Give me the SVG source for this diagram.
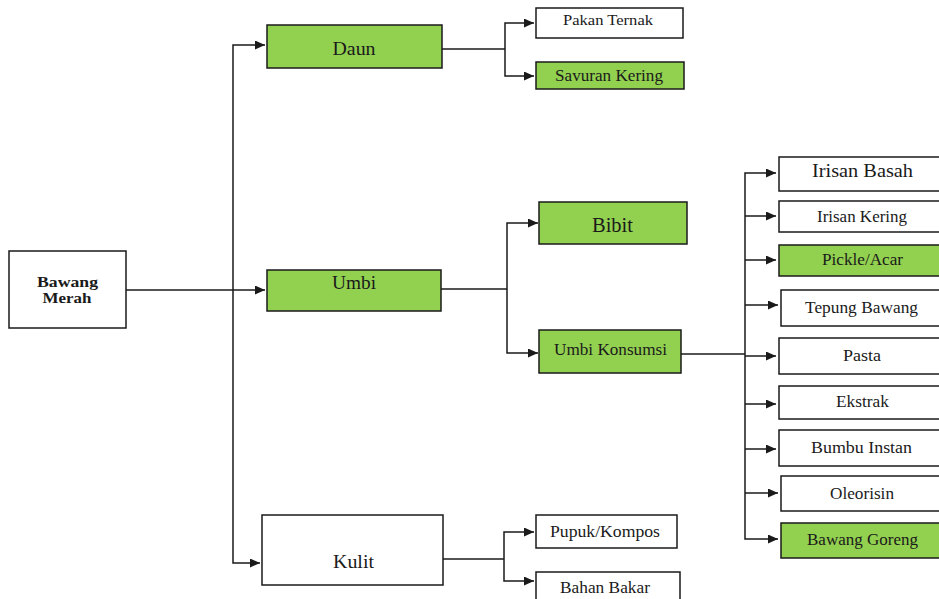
<svg xmlns="http://www.w3.org/2000/svg" width="939" height="599" viewBox="0 0 939 599">
  <style>
    .box { stroke: #1a1a1a; stroke-width: 1.5; fill: #ffffff; }
    .green { fill: #92d050; }
    .lbl { font-family: "Liberation Serif", "Times New Roman", serif; fill: #1a1a1a; text-anchor: middle; }
    .wire { fill: none; stroke: #1a1a1a; stroke-width: 1.5; }
    .arr { marker-end: url(#head); }
  </style>
  <defs>
    <marker id="head" markerUnits="userSpaceOnUse" markerWidth="11" markerHeight="10" refX="10" refY="4.5" orient="auto">
      <path d="M0,0 L10,4.5 L0,9 Z" fill="#1a1a1a"/>
    </marker>
  </defs>
  <rect width="939" height="599" fill="#ffffff"/>

  <!-- connectors -->
  <g id="connectors">
    <path class="wire arr" d="M126,290 H265"/>
    <path class="wire arr" d="M233,290 V45 H265"/>
    <path class="wire arr" d="M233,290 V563 H260"/>

    <path class="wire" d="M442,49 H505"/>
    <path class="wire arr" d="M505,49 V23 H534"/>
    <path class="wire arr" d="M505,49 V76 H534"/>

    <path class="wire" d="M441,289 H507"/>
    <path class="wire arr" d="M507,289 V223 H538"/>
    <path class="wire arr" d="M507,289 V353 H538"/>

    <path class="wire" d="M681,354 H745"/>
    <path class="wire arr" d="M745,354 V173 H776"/>
    <path class="wire arr" d="M745,216 H776"/>
    <path class="wire arr" d="M745,260 H776"/>
    <path class="wire arr" d="M745,305 H778"/>
    <path class="wire arr" d="M745,356 H776"/>
    <path class="wire arr" d="M745,404 H776"/>
    <path class="wire arr" d="M745,449 H776"/>
    <path class="wire arr" d="M745,493 H778"/>
    <path class="wire arr" d="M745,354 V539 H778"/>

    <path class="wire" d="M443,559 H504"/>
    <path class="wire arr" d="M504,559 V532 H534"/>
    <path class="wire arr" d="M504,559 V581 H534"/>
  </g>

  <!-- root -->
  <g id="bawang-merah">
    <rect class="box" x="9" y="251" width="117" height="77"/>
    <text class="lbl" x="67.5" y="287" font-size="15" font-weight="bold" textLength="61" lengthAdjust="spacingAndGlyphs">Bawang</text>
    <text class="lbl" x="67" y="303" font-size="15" font-weight="bold" textLength="49" lengthAdjust="spacingAndGlyphs">Merah</text>
  </g>

  <!-- level 1 -->
  <g id="daun">
    <rect class="box green" x="267" y="25" width="175" height="43"/>
    <text class="lbl" x="354" y="55" font-size="19" textLength="43" lengthAdjust="spacingAndGlyphs">Daun</text>
  </g>
  <g id="umbi">
    <rect class="box green" x="267" y="270" width="174" height="41"/>
    <text class="lbl" x="354" y="289" font-size="19" textLength="44" lengthAdjust="spacingAndGlyphs">Umbi</text>
  </g>
  <g id="kulit">
    <rect class="box" x="262" y="515" width="181" height="70"/>
    <text class="lbl" x="353.5" y="568" font-size="19" textLength="41" lengthAdjust="spacingAndGlyphs">Kulit</text>
  </g>

  <!-- daun products -->
  <g id="pakan-ternak">
    <rect class="box" x="536" y="8" width="147" height="30"/>
    <text class="lbl" x="608" y="25" font-size="15" textLength="90" lengthAdjust="spacingAndGlyphs">Pakan Ternak</text>
  </g>
  <g id="savuran-kering">
    <rect class="box green" x="536" y="62" width="148" height="27"/>
    <text class="lbl" x="609" y="81" font-size="16" textLength="108" lengthAdjust="spacingAndGlyphs">Savuran Kering</text>
  </g>

  <!-- umbi products -->
  <g id="bibit">
    <rect class="box green" x="539" y="202" width="148" height="42"/>
    <text class="lbl" x="612.5" y="232" font-size="20" textLength="41" lengthAdjust="spacingAndGlyphs">Bibit</text>
  </g>
  <g id="umbi-konsumsi">
    <rect class="box green" x="539" y="330" width="142" height="43"/>
    <text class="lbl" x="610.5" y="355" font-size="16" textLength="113" lengthAdjust="spacingAndGlyphs">Umbi Konsumsi</text>
  </g>

  <!-- umbi konsumsi products -->
  <g id="irisan-basah">
    <rect class="box" x="779" y="157" width="164" height="34"/>
    <text class="lbl" x="862.5" y="177" font-size="18" textLength="101" lengthAdjust="spacingAndGlyphs">Irisan Basah</text>
  </g>
  <g id="irisan-kering">
    <rect class="box" x="779" y="201" width="164" height="31"/>
    <text class="lbl" x="862" y="222" font-size="17" textLength="90" lengthAdjust="spacingAndGlyphs">Irisan Kering</text>
  </g>
  <g id="pickle-acar">
    <rect class="box green" x="779" y="245" width="164" height="31"/>
    <text class="lbl" x="862.5" y="265" font-size="17" textLength="81" lengthAdjust="spacingAndGlyphs">Pickle/Acar</text>
  </g>
  <g id="tepung-bawang">
    <rect class="box" x="781" y="290" width="162" height="36"/>
    <text class="lbl" x="861.5" y="313" font-size="17" textLength="113" lengthAdjust="spacingAndGlyphs">Tepung Bawang</text>
  </g>
  <g id="pasta">
    <rect class="box" x="779" y="338" width="164" height="36"/>
    <text class="lbl" x="862" y="361" font-size="17" textLength="38" lengthAdjust="spacingAndGlyphs">Pasta</text>
  </g>
  <g id="ekstrak">
    <rect class="box" x="779" y="386" width="164" height="33"/>
    <text class="lbl" x="862.5" y="407" font-size="17" textLength="53" lengthAdjust="spacingAndGlyphs">Ekstrak</text>
  </g>
  <g id="bumbu-instan">
    <rect class="box" x="779" y="430" width="164" height="36"/>
    <text class="lbl" x="861.5" y="453" font-size="17" textLength="101" lengthAdjust="spacingAndGlyphs">Bumbu Instan</text>
  </g>
  <g id="oleorisin">
    <rect class="box" x="781" y="476" width="162" height="35"/>
    <text class="lbl" x="862" y="499" font-size="17" textLength="64" lengthAdjust="spacingAndGlyphs">Oleorisin</text>
  </g>
  <g id="bawang-goreng">
    <rect class="box green" x="781" y="523" width="162" height="35"/>
    <text class="lbl" x="862.5" y="545" font-size="17" textLength="111" lengthAdjust="spacingAndGlyphs">Bawang Goreng</text>
  </g>

  <!-- kulit products -->
  <g id="pupuk-kompos">
    <rect class="box" x="536" y="515" width="141" height="33"/>
    <text class="lbl" x="605" y="537" font-size="16" textLength="110" lengthAdjust="spacingAndGlyphs">Pupuk/Kompos</text>
  </g>
  <g id="bahan-bakar">
    <rect class="box" x="536" y="572" width="144" height="32"/>
    <text class="lbl" x="605" y="593" font-size="16" textLength="90" lengthAdjust="spacingAndGlyphs">Bahan Bakar</text>
  </g>
</svg>
